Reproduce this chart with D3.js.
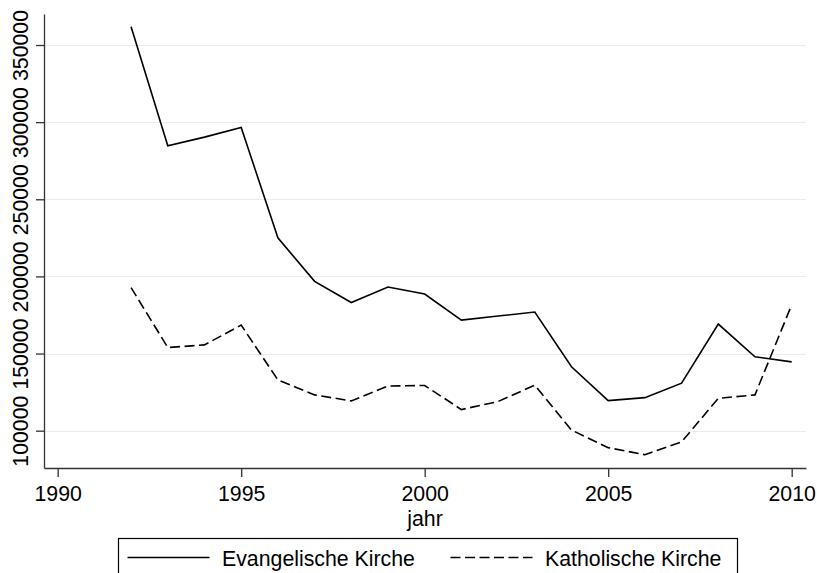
<!DOCTYPE html>
<html>
<head>
<meta charset="utf-8">
<script src="https://cdn.jsdelivr.net/npm/d3@7"></script>
<style>
  body { margin: 0; background: #fff; }
  svg { display: block; font-family: "Liberation Sans", Arial, sans-serif; }
  .grid line { stroke: #ebebeb; stroke-width: 1.2; }
  .axis path, .axis line { stroke: #333; stroke-width: 1.3; }
  .axis text { fill: #000; font-size: 21.3px; }
</style>
</head>
<body>
<script>
// years on the x axis
var years = [1992, 1993, 1994, 1995, 1996, 1997, 1998, 1999, 2000, 2001,
  2002, 2003, 2004, 2005, 2006, 2007, 2008, 2009, 2010]

// Evangelische Kirche
var evangelisch = [361900, 284700, 290300, 296600, 225000, 196800, 183100,
  193100, 188600, 171700, 174300, 176900, 141400, 119500, 121400, 130800,
  169100, 147900, 144600]

// Katholische Kirche
var katholisch = [192700, 153900, 155600, 168400, 132900, 123200, 119300,
  128900, 129300, 113700, 118900, 129500, 100400, 89000, 84400, 92700,
  121000, 123200, 181600]

var xTicks = [1990, 1995, 2000, 2005, 2010]
var yTicks = [100000, 150000, 200000, 250000, 300000, 350000]

var series = [
  { name: "Evangelische Kirche", values: evangelisch, dash: null },
  { name: "Katholische Kirche", values: katholisch, dash: "10,4.5" }
]

var w = 817
var h = 573

var svg = d3.select("body")
  .append("svg")
  .attr("width", w)
  .attr("height", h)

// scales: plot region runs from x 44 to 806 and y 14 to 468
var xScale = d3.scaleLinear()
  .domain([1989.627, 2010.39])
  .range([44, 806])

var yScale = d3.scaleLinear()
  .domain([75810, 370100])
  .range([468, 14])

// horizontal grid lines
svg.append("g")
  .attr("class", "grid")
  .selectAll("line")
  .data(yTicks)
  .enter()
  .append("line")
  .attr("x1", 44)
  .attr("x2", 806)
  .attr("y1", function(d) { return Math.round(yScale(d)) + 0.5 })
  .attr("y2", function(d) { return Math.round(yScale(d)) + 0.5 })

// the two lines
var line = d3.line()
  .x(function(d, i) { return xScale(years[i]) })
  .y(function(d) { return yScale(d) })

svg.selectAll(".series")
  .data(series)
  .enter()
  .append("path")
  .attr("class", "series")
  .attr("d", function(d) { return line(d.values) })
  .attr("fill", "none")
  .attr("stroke", "#000")
  .attr("stroke-width", 1.6)
  .attr("stroke-linejoin", "miter")
  .attr("stroke-dasharray", function(d) { return d.dash })

// y axis
var yAxis = svg.append("g")
  .attr("class", "axis")
  .attr("transform", "translate(44,0)")
  .call(d3.axisLeft(yScale).tickValues(yTicks).tickSize(8).tickSizeOuter(0).tickFormat(d3.format("d")))

yAxis.selectAll("text")
  .attr("transform", "rotate(-90)")
  .attr("x", 0)
  .attr("y", -16.5)
  .attr("dy", 0)
  .attr("text-anchor", "middle")

// x axis
svg.append("g")
  .attr("class", "axis")
  .attr("transform", "translate(0,468)")
  .call(d3.axisBottom(xScale).tickValues(xTicks).tickSize(9).tickSizeOuter(0).tickFormat(d3.format("d")))
  .selectAll("text")
  .attr("y", 32.5)
  .attr("dy", 0)

// x axis title
svg.append("text")
  .attr("x", 425)
  .attr("y", 525.5)
  .attr("text-anchor", "middle")
  .attr("font-size", 21.3)
  .text("jahr")

// legend
var legend = svg.append("g")
legend.append("rect")
  .attr("x", 118.5)
  .attr("y", 538.5)
  .attr("width", 619)
  .attr("height", 60)
  .attr("fill", "#fff")
  .attr("stroke", "#000")
  .attr("stroke-width", 1.2)

var legendX = [127.5, 450.5]
series.forEach(function(s, i) {
  legend.append("line")
    .attr("x1", legendX[i])
    .attr("x2", legendX[i] + 82)
    .attr("y1", 557.5)
    .attr("y2", 557.5)
    .attr("stroke", "#000")
    .attr("stroke-width", 1.6)
    .attr("stroke-dasharray", s.dash)
  legend.append("text")
    .attr("x", legendX[i] + 94.5)
    .attr("y", 566)
    .attr("font-size", 21.3)
    .text(s.name)
})
</script>
</body>
</html>
